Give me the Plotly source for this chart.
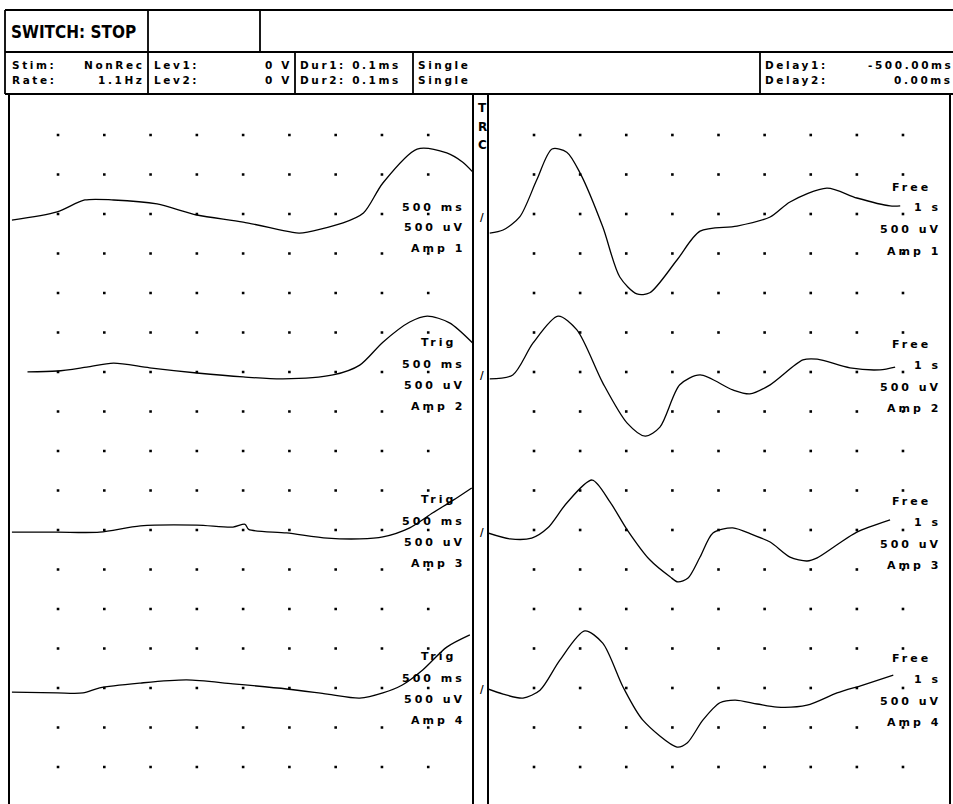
import plotly.graph_objects as go

W, H = 953, 804

# ---------------- data ----------------
# Left sweep (Trig, 500 ms): time in ms, amplitude in uV (relative to channel baseline)
L1_T = [0, 49, 79, 110, 157, 200, 250, 301, 311, 358, 380, 401, 438, 470, 487, 498]
L1_UV = [25, 46, 76, 76, 66, 38, 20, -5, -8, 18, 43, 119, 205, 195, 172, 147]
L2_T = [17, 49, 81, 110, 149, 200, 250, 293, 347, 376, 401, 430, 449, 473, 498]
L2_UV = [41, 43, 53, 63, 51, 38, 28, 23, 33, 58, 116, 167, 182, 165, 114]
L3_T = [0, 49, 95, 139, 200, 239, 252, 256, 297, 341, 376, 401, 430, 455, 477, 497]
L3_UV = [35, 35, 35, 51, 53, 48, 55, 42, 33, 20, 18, 23, 46, 84, 116, 147]
L4_T = [0, 49, 77, 95, 139, 189, 239, 297, 341, 376, 401, 422, 444, 470, 495]
L4_UV = [30, 28, 28, 41, 53, 61, 51, 38, 25, 15, 28, 48, 86, 144, 175]

# Right sweep (Free, 1 s): time in ms, amplitude in uV
R1_T = [4, 33, 69, 106, 139, 171, 200, 249, 286, 323, 351, 410, 460, 540, 612, 655, 735, 800, 872, 894]
R1_UV = [-8, 0, 33, 127, 205, 197, 144, 8, -119, -162, -159, -76, -3, 10, 33, 71, 106, 81, 61, 61]
R2_T = [4, 54, 98, 152, 193, 249, 302, 341, 373, 416, 460, 531, 568, 612, 683, 714, 785, 850, 883]
R2_UV = [23, 33, 114, 182, 147, 13, -89, -122, -99, 8, 33, -5, -15, 8, 71, 73, 51, 46, 53]
R3_T = [0, 48, 95, 130, 171, 226, 265, 302, 351, 395, 412, 434, 460, 488, 531, 575, 612, 655, 692, 714, 757, 800, 872]
R3_UV = [33, 18, 20, 46, 109, 167, 111, 41, -35, -78, -91, -81, -28, 33, 46, 28, 10, -28, -38, -30, 3, 35, 66]
R4_T = [0, 33, 76, 113, 156, 210, 249, 293, 336, 410, 432, 466, 503, 536, 584, 627, 692, 757, 813, 879]
R4_UV = [38, 25, 15, 35, 111, 185, 154, 43, -41, -109, -99, -41, 3, 10, 0, -8, -3, 28, 48, 73]

LEFT_TRACES = [(L1_T, L1_UV), (L2_T, L2_UV), (L3_T, L3_UV), (L4_T, L4_UV)]
RIGHT_TRACES = [(R1_T, R1_UV), (R2_T, R2_UV), (R3_T, R3_UV), (R4_T, R4_UV)]

LEFT_LABELS = [["500 ms", "500 uV", "Amp 1"],
               ["Trig", "500 ms", "500 uV", "Amp 2"],
               ["Trig", "500 ms", "500 uV", "Amp 3"],
               ["Trig", "500 ms", "500 uV", "Amp 4"]]
RIGHT_LABELS = [["Free", "1 s", "500 uV", "Amp 1"],
                ["Free", "1 s", "500 uV", "Amp 2"],
                ["Free", "1 s", "500 uV", "Amp 3"],
                ["Free", "1 s", "500 uV", "Amp 4"]]

HEADER_TITLE = "SWITCH: STOP"
HEADER_ROW1 = [("Stim:", "NonRec"), ("Lev1:", "0 V"), ("Dur1: 0.1ms", None), ("Single", None), ("Delay1:", "-500.00ms")]
HEADER_ROW2 = [("Rate:", "1.1Hz"), ("Lev2:", "0 V"), ("Dur2: 0.1ms", None), ("Single", None), ("Delay2:", "0.00ms")]

LEFT_GRID_T = [50, 100, 150, 200, 250, 300, 350, 400, 450]
RIGHT_GRID_T = [100, 200, 300, 400, 500, 600, 700, 800, 900]
GRID_ROWS = list(range(0, 17))

UV_PER_DIV = 100.0
CH_SPACING_DIV = 4.0
TOP_BASE_DIV = 13.595

# ---------------- helpers ----------------
def px(x):
    return x / W

def py(y):
    return 1 - y / H

def base_div(i):
    return TOP_BASE_DIV - CH_SPACING_DIV * i

INSTR_FONT = "DejaVu Sans, Verdana, Arial, sans-serif"

def spaced(t, sp=3):
    return '<span style="letter-spacing:%spx">%s</span>' % (sp, t)

fig = go.Figure()

# grid dots
for xa, grid_t in (("x", LEFT_GRID_T), ("x2", RIGHT_GRID_T)):
    gx, gy = [], []
    for r in GRID_ROWS:
        for t in grid_t:
            gx.append(t)
            gy.append(r)
    fig.add_trace(go.Scatter(x=gx, y=gy, xaxis=xa, yaxis="y", mode="markers",
                             marker=dict(size=2.6, color="black", symbol="square"),
                             hoverinfo="skip", showlegend=False))

# traces
for xa, traces in (("x", LEFT_TRACES), ("x2", RIGHT_TRACES)):
    for i, (t, uv) in enumerate(traces):
        fig.add_trace(go.Scatter(x=t, y=[base_div(i) + v / UV_PER_DIV for v in uv],
                                 xaxis=xa, yaxis="y", mode="lines",
                                 line=dict(color="black", width=1.3, shape="spline", smoothing=0.8),
                                 hoverinfo="skip", showlegend=False))

ann = []

def add_text(text, x, y, anchor="left", size=11, sp=3, family=INSTR_FONT, weight=700):
    ann.append(dict(text=spaced(text, sp) if sp else text, x=px(x), y=py(y),
                    xref="paper", yref="paper", xanchor=anchor, yanchor="middle",
                    showarrow=False, font=dict(family=family, size=size, color="black", weight=weight)))

# header
add_text(HEADER_TITLE, 9, 32, size=17, sp=0,
         family="DejaVu Sans Condensed, Liberation Sans Narrow, Roboto Condensed, Roboto, sans-serif")
col_left = [10, 152, 298, 416, 763]
col_right = [147, 294, None, None, 955]
for row, yy in ((HEADER_ROW1, 65), (HEADER_ROW2, 80)):
    for k, (lab, val) in enumerate(row):
        add_text(lab, col_left[k], yy, size=10.5, sp=2.6)
        if val is not None:
            add_text(val, col_right[k], yy, anchor="right", size=10.5, sp=2.6)

# TRC + slashes
for ch, yy in zip("TRC", (108, 127, 145)):
    add_text(ch, 482, yy, anchor="center", size=12, sp=0)

left_off = [-22, 0, 21, 42]
for i in range(4):
    b = 207 + 157.3 * i
    add_text("/", 482, b + 11, anchor="center", size=10, sp=0)
    labs = LEFT_LABELS[i]
    offs = left_off[-len(labs):]
    for lab, o in zip(labs, offs):
        xr = 458 if lab == "Trig" else 467
        add_text(lab, xr, b + o, anchor="right")
    for lab, o in zip(RIGHT_LABELS[i], [-20, 1, 23, 44]):
        xr = 933 if lab == "Free" else 943
        add_text(lab, xr, b + o, anchor="right")

# frame lines
shapes = []

def hline(y, x0, x1, w=1.8):
    shapes.append(dict(type="line", xref="paper", yref="paper", x0=px(x0), x1=px(x1), y0=py(y), y1=py(y),
                       line=dict(color="black", width=w)))

def vline(x, y0, y1, w=1.8):
    shapes.append(dict(type="line", xref="paper", yref="paper", x0=px(x), x1=px(x), y0=py(y0), y1=py(y1),
                       line=dict(color="black", width=w)))

hline(10, 5, 953)
hline(52, 5, 953)
hline(94, 5, 953)
vline(5, 10, 94)
vline(148, 10, 94)
vline(260, 10, 52)
vline(295, 52, 94)
vline(413, 52, 94)
vline(760, 52, 94)
vline(9, 94, 804, 2)
vline(473, 94, 804, 2)
vline(488, 94, 804, 2)
vline(950, 94, 804, 2)

ax_common = dict(showgrid=False, zeroline=False, showticklabels=False, ticks="", showline=False, fixedrange=True)
fig.update_layout(
    width=W, height=H, autosize=False,
    margin=dict(l=0, r=0, t=0, b=0),
    paper_bgcolor="white", plot_bgcolor="white",
    showlegend=False,
    xaxis=dict(domain=[px(11.75), px(474.5)], range=[0, 500], anchor="y", **ax_common),
    xaxis2=dict(domain=[px(487.9), px(949.1)], range=[0, 1000], anchor="y", **ax_common),
    yaxis=dict(domain=[0, py(94)], range=[-0.937, 17.038], **ax_common),
    annotations=ann,
    shapes=shapes,
)

fig.write_html("out.html", config={"displayModeBar": False},
               post_script="document.body.style.margin='0';document.body.style.overflow='hidden';")
